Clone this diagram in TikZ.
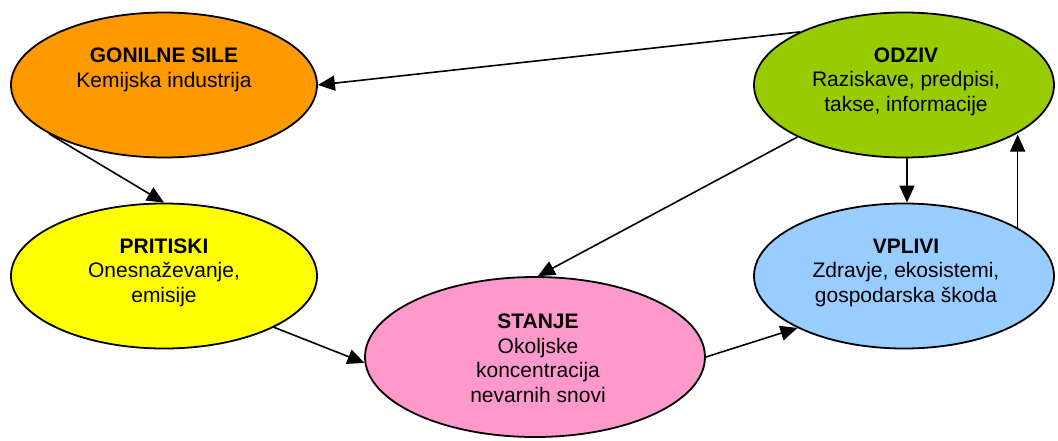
\documentclass[tikz,border=0pt]{standalone}
\usepackage{fontspec}
\setmainfont{Liberation Sans}
\usetikzlibrary{shapes.geometric,arrows.meta}
\definecolor{cOrange}{HTML}{FF9900}
\definecolor{cYellow}{HTML}{FFFF00}
\definecolor{cPink}{HTML}{FF99CC}
\definecolor{cGreen}{HTML}{99CC00}
\definecolor{cBlue}{HTML}{99CCFF}
\begin{document}
\begin{tikzpicture}[x=1pt,y=-1pt,
  blob/.style={ellipse,draw=black,line width=1.8pt,inner sep=0pt,minimum width=306pt,minimum height=145pt},
  lbl/.style={align=center,inner sep=0pt,anchor=base,font=\fontsize{21}{24.5}\selectfont},
  conn/.style={line width=1.6pt,-{Triangle[length=17pt,width=15pt]}}]
\useasboundingbox (0,0) rectangle (1058,440);
\node[blob,fill=cOrange] (gon) at (164,85) {};
\node[blob,fill=cYellow] (pri) at (164,276) {};
\node[blob,fill=cPink,minimum width=340pt,minimum height=160pt] (sta) at (535,357) {};
\node[blob,fill=cBlue,minimum width=300pt] (vpl) at (904,276) {};
\node[blob,fill=cGreen,minimum width=300pt] (odz) at (904,85) {};
\node[lbl] (tgon) at (164,87) {\textbf{GONILNE SILE}\\Kemijska industrija};
\node[lbl] (tpri) at (164,302) {\textbf{PRITISKI}\\Onesnaževanje,\\emisije};
\node[lbl] (tsta) at (538,402) {\textbf{STANJE}\\Okoljske\\koncentracija\\nevarnih snovi};
\node[lbl] (tvpl) at (906,302) {\textbf{VPLIVI}\\Zdravje, ekosistemi,\\gospodarska škoda};
\node[lbl] (todz) at (906,111) {\textbf{ODZIV}\\Raziskave, predpisi,\\takse, informacije};
\draw[conn] (odz.153.7) -- (gon.east);
\draw[conn] (gon.203) -- (pri.north);
\draw[conn] (pri.-25.5) -- (sta.182);
\draw[conn] (sta.east) -- (vpl.206);
\draw[conn] (odz.206) -- (sta.88);
\draw[conn] ([xshift=3pt]odz.south) -- ([xshift=3pt]vpl.north);
\draw[conn] (vpl.23.5) -- (vpl.23.5 |- odz.-24);
\end{tikzpicture}
\end{document}
